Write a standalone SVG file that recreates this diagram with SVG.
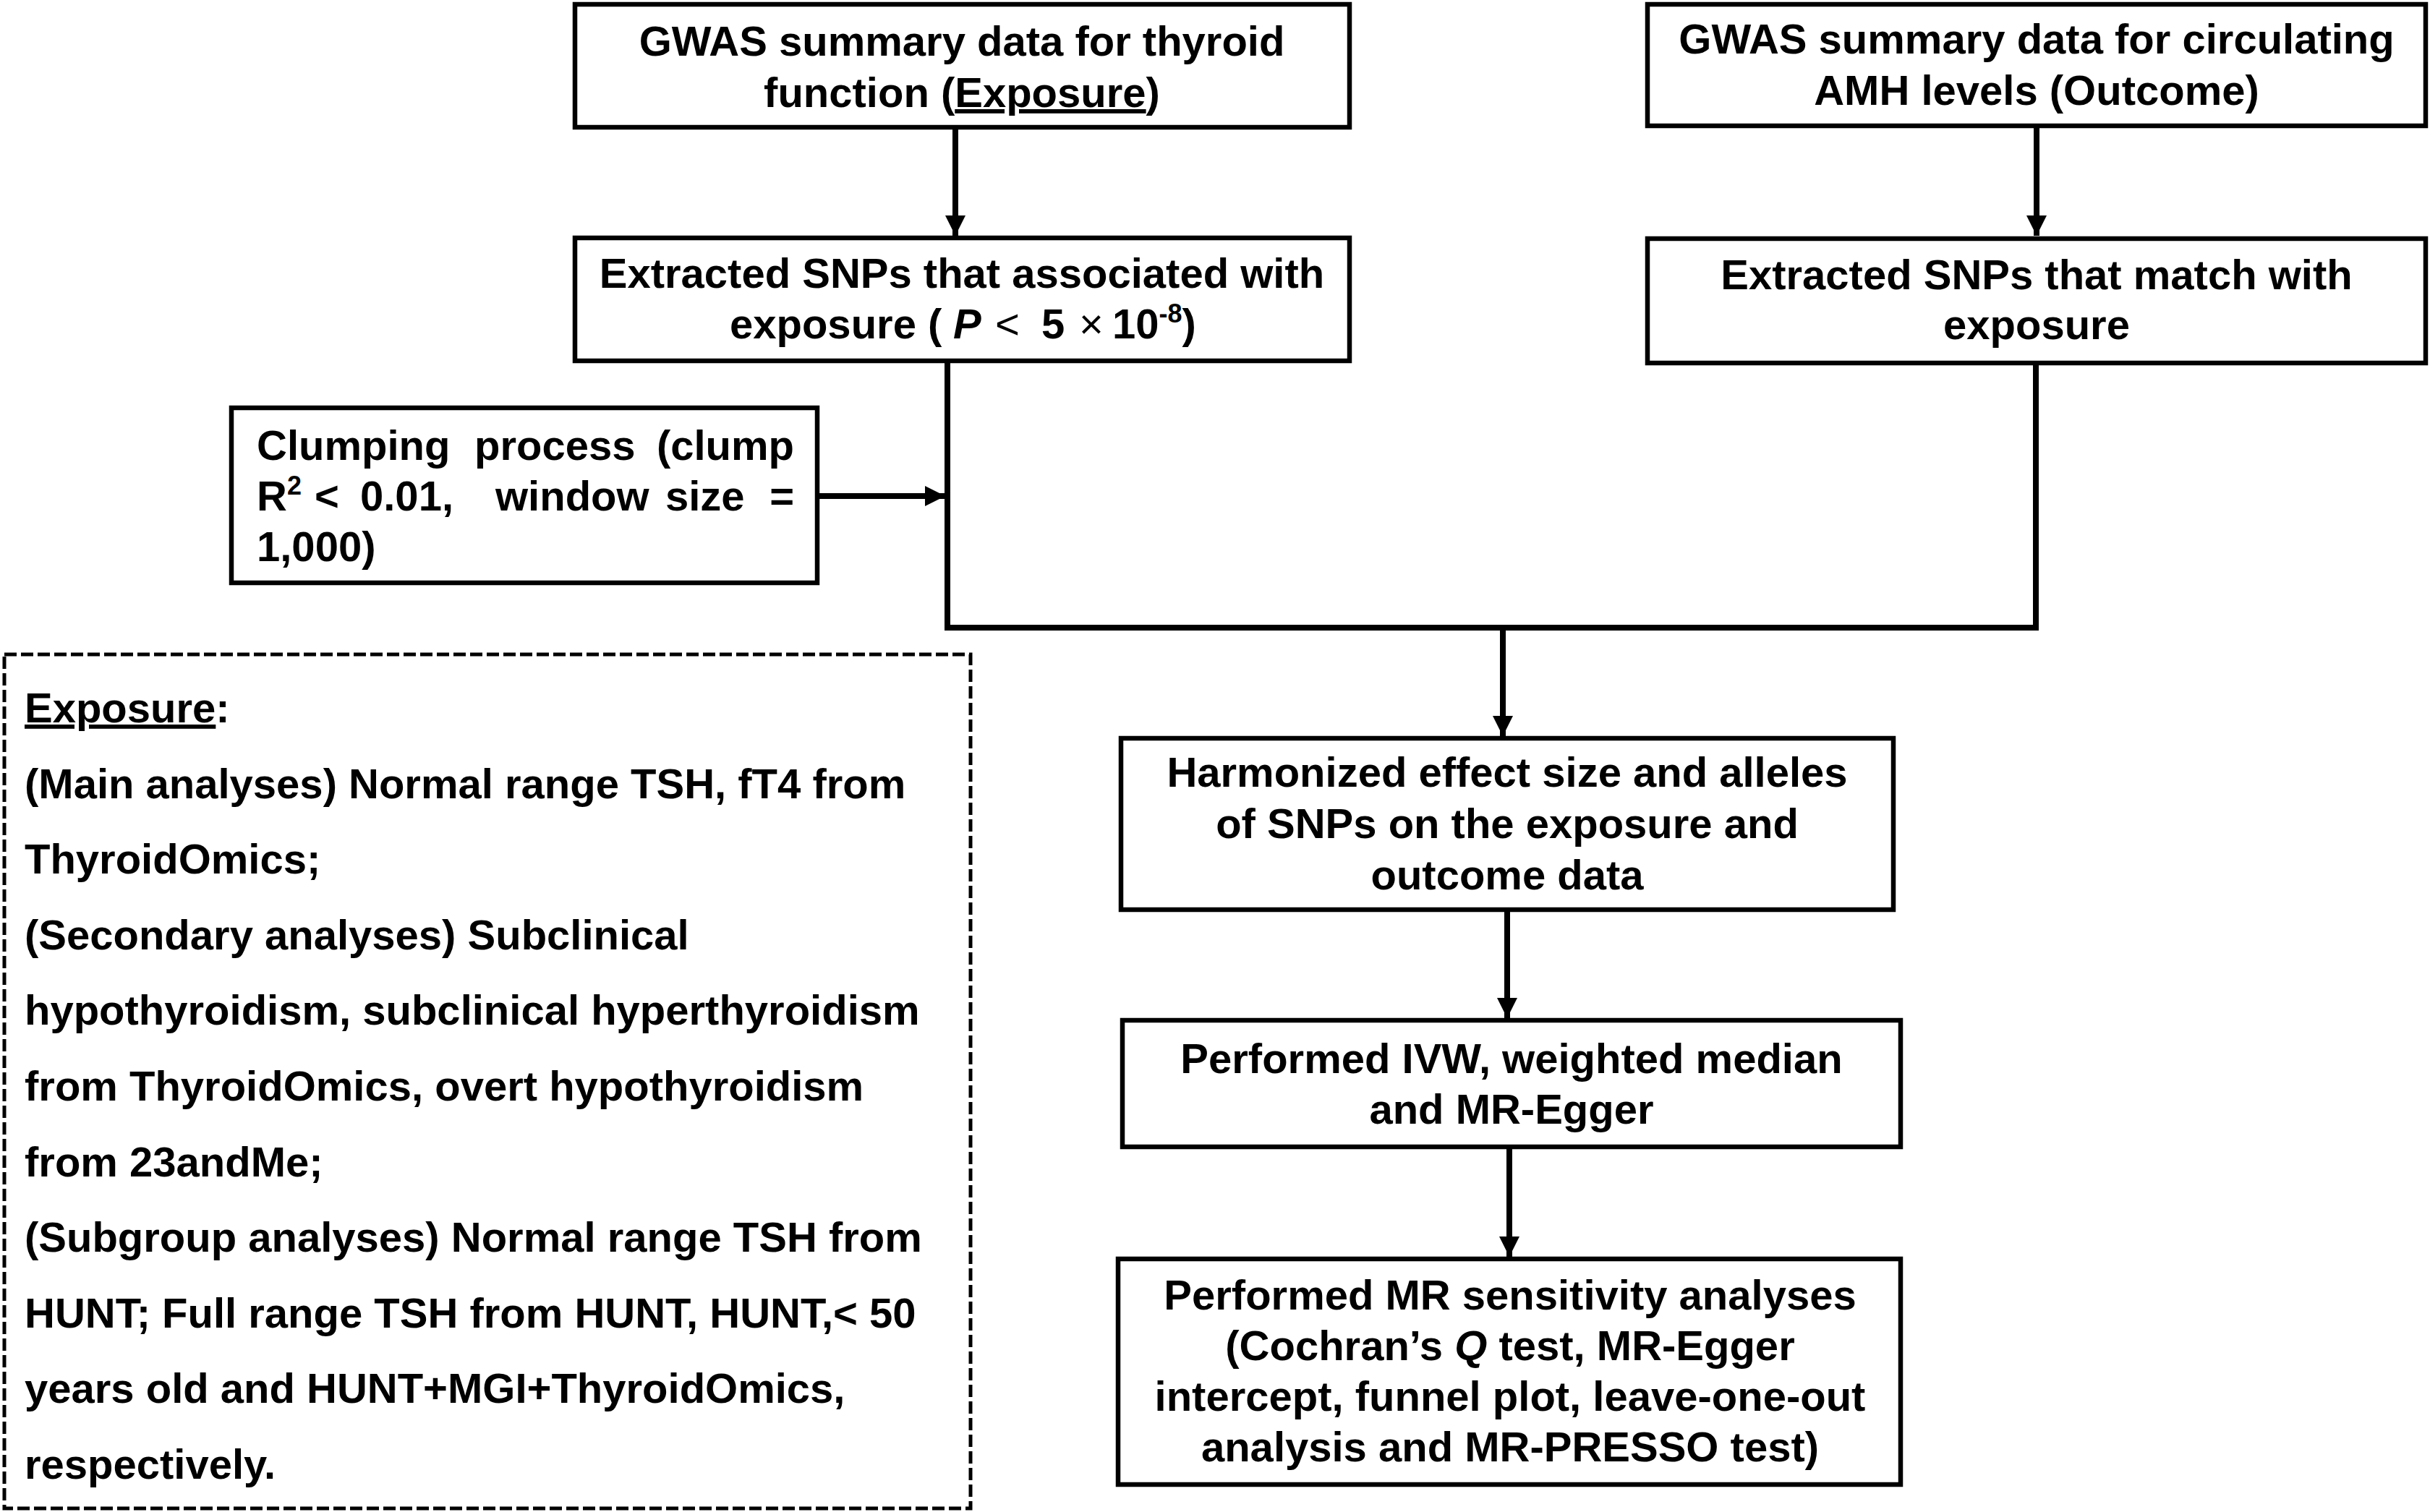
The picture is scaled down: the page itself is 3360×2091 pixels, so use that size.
<svg xmlns="http://www.w3.org/2000/svg" width="3360" height="2091" viewBox="0 0 3360 2091">
<style>
.box{fill:#fff;stroke:#000;stroke-width:6.5}
.dash{fill:none;stroke:#000;stroke-width:5;stroke-dasharray:17 6}
.t{font-family:"Liberation Sans",Arial,sans-serif;font-weight:bold;font-size:58px;fill:#000}
.c{text-anchor:middle}
.e{text-anchor:end}
.ln{fill:none;stroke:#000;stroke-width:8}
.u{text-decoration:underline}
.n{font-weight:normal}
.i{font-style:italic}
</style>
<defs>
<marker id="ah" markerUnits="userSpaceOnUse" markerWidth="30" markerHeight="30" viewBox="0 0 30 30" refX="28" refY="15" orient="auto">
<path d="M0,1 L28,15 L0,29 Z" fill="#000"/>
</marker>
</defs>
<rect width="3360" height="2091" fill="#fff"/>
<g id="connectors">
<line class="ln" x1="1321" y1="176" x2="1321" y2="326" marker-end="url(#ah)"/>
<line class="ln" x1="2816" y1="174" x2="2816" y2="326" marker-end="url(#ah)"/>
<line class="ln" x1="1310" y1="500" x2="1310" y2="868"/>
<line class="ln" x1="2815" y1="503" x2="2815" y2="868"/>
<line class="ln" x1="1306" y1="868" x2="2819" y2="868"/>
<line class="ln" x1="1131" y1="686" x2="1307" y2="686" marker-end="url(#ah)"/>
<line class="ln" x1="2078" y1="872" x2="2078" y2="1018" marker-end="url(#ah)"/>
<line class="ln" x1="2084" y1="1258" x2="2084" y2="1408" marker-end="url(#ah)"/>
<line class="ln" x1="2087" y1="1587" x2="2087" y2="1738" marker-end="url(#ah)"/>
</g>
<g id="n1">
<rect class="box" x="795" y="6" width="1071" height="170"/>
<text class="t c" x="1330" y="77">GWAS summary data for thyroid</text>
<text class="t c" x="1330" y="148">function (<tspan class="u">Exposure</tspan>)</text>
</g>
<g id="n2">
<rect class="box" x="795" y="329" width="1071" height="170"/>
<text class="t c" x="1330" y="398">Extracted SNPs that associated with</text>
<text class="t" y="468"><tspan x="1009">exposure (</tspan><tspan x="1318" class="i">P</tspan><tspan x="1376" class="n">&lt;</tspan><tspan x="1440">5</tspan><tspan x="1492" class="n">×</tspan><tspan x="1538">10</tspan><tspan font-size="36" dy="-22">-8</tspan><tspan dy="22">)</tspan></text>
</g>
<g id="n3">
<rect class="box" x="2278" y="6" width="1076" height="168"/>
<text class="t c" x="2816" y="74">GWAS summary data for circulating</text>
<text class="t c" x="2816" y="145">AMH levels (Outcome)</text>
</g>
<g id="n4">
<rect class="box" x="2278" y="330" width="1076" height="172"/>
<text class="t c" x="2816" y="400">Extracted SNPs that match with</text>
<text class="t c" x="2816" y="469">exposure</text>
</g>
<g id="n5">
<rect class="box" x="320" y="564" width="810" height="242"/>
<text class="t" y="636"><tspan x="355">Clumping</tspan><tspan x="656">process</tspan></text>
<text class="t e" x="1098" y="636">(clump</text>
<text class="t" y="706"><tspan x="355">R</tspan><tspan font-size="36" dy="-22">2</tspan><tspan x="435" dy="22">&lt;</tspan><tspan x="498">0.01,</tspan><tspan x="685">window</tspan><tspan x="920">size</tspan></text>
<text class="t e" x="1098" y="706">=</text>
<text class="t" x="355" y="776">1,000)</text>
</g>
<g id="n6">
<rect class="dash" x="6" y="905" width="1336" height="1181"/>
<text class="t" x="34" y="999"><tspan class="u">Exposure</tspan>:</text>
<text class="t" x="34" y="1104">(Main analyses) Normal range TSH, fT4 from</text>
<text class="t" x="34" y="1208">ThyroidOmics;</text>
<text class="t" x="34" y="1313">(Secondary analyses) Subclinical</text>
<text class="t" x="34" y="1417">hypothyroidism, subclinical hyperthyroidism</text>
<text class="t" x="34" y="1522">from ThyroidOmics, overt hypothyroidism</text>
<text class="t" x="34" y="1627">from 23andMe;</text>
<text class="t" x="34" y="1731">(Subgroup analyses) Normal range TSH from</text>
<text class="t" x="34" y="1836">HUNT; Full range TSH from HUNT, HUNT,&lt; 50</text>
<text class="t" x="34" y="1940">years old and HUNT+MGI+ThyroidOmics,</text>
<text class="t" x="34" y="2045">respectively.</text>
</g>
<g id="n7">
<rect class="box" x="1550" y="1021" width="1068" height="237"/>
<text class="t c" x="2084" y="1088">Harmonized effect size and alleles</text>
<text class="t c" x="2084" y="1159">of SNPs on the exposure and</text>
<text class="t c" x="2084" y="1230">outcome data</text>
</g>
<g id="n8">
<rect class="box" x="1552" y="1411" width="1076" height="175"/>
<text class="t c" x="2090" y="1484">Performed IVW, weighted median</text>
<text class="t c" x="2090" y="1554">and MR-Egger</text>
</g>
<g id="n9">
<rect class="box" x="1546" y="1741" width="1082" height="312"/>
<text class="t c" x="2088" y="1811">Performed MR sensitivity analyses</text>
<text class="t c" x="2088" y="1881">(Cochran’s <tspan class="i">Q</tspan> test, MR-Egger</text>
<text class="t c" x="2088" y="1951">intercept, funnel plot, leave-one-out</text>
<text class="t c" x="2088" y="2021">analysis and MR-PRESSO test)</text>
</g>
</svg>
